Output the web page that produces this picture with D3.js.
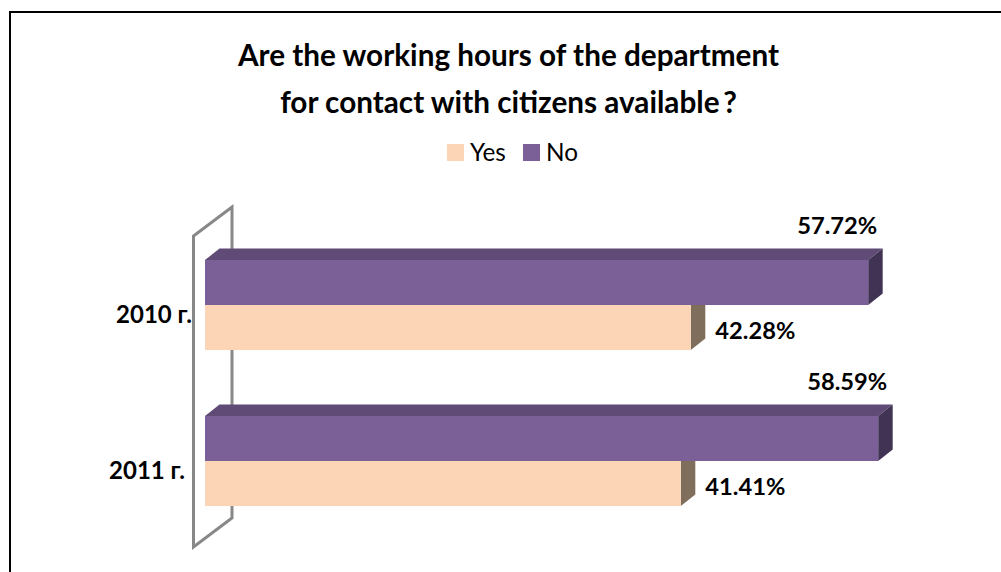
<!DOCTYPE html>
<html>
<head>
<meta charset="utf-8">
<script src="https://cdn.jsdelivr.net/npm/d3@7"></script>
<style>
  html, body { margin: 0; padding: 0; background: #fff; overflow: hidden; }
  text { font-family: Lato, "Open Sans", sans-serif; fill: #000; }
</style>
</head>
<body>
<div id="chart"></div>
<script>
const years = ['2010 г.', '2011 г.'];
const seriesNames = ['Yes', 'No'];
const yesValues = [42.28, 41.41];
const noValues = [57.72, 58.59];
const titleLines = ['Are the working hours of the department', 'for contact with citizens available\u2009?'];

const w = 1001, h = 572;
const depth = { x: 14.5, y: 11.5 };
const barH = 45;
const colors = {
    Yes: { front: '#fbd5b5', side: '#7f6e5b' },
    No: { front: '#7b6098', side: '#413353', top: '#5f4b75' }
};

const svg = d3.select('#chart').append('svg').attr('width', w).attr('height', h).style('display', 'block');

// frame: only top and left show, the rest is cut off
svg.append('path').attr('d', d3.line()([[10, h], [10, 12], [w, 12]]))
    .attr('fill', 'none').attr('stroke', '#000').attr('stroke-width', 2);

svg.selectAll('text.title').data(titleLines).enter().append('text')
    .attr('class', 'title')
    .attr('x', 508.5).attr('y', (d, i) => 66 + i * 47)
    .attr('text-anchor', 'middle')
    .style('font-size', '29.7px').style('font-weight', 700)
    .text(d => d);

// 60 on this axis sits at the right end of the plot
const x = d3.scaleLinear().domain([0, 60]).range([205, 894.4]);
const y = d3.scaleBand().domain(years).range([227, 539]);

// the slanted wall behind the bars
const [y0, y1] = y.range();
const wall = [[193.5, y0 + 9], [232, y0 - 20], [232, y1 - 21], [193.5, y1 + 8]];
svg.append('path').attr('d', d3.line()(wall) + 'Z')
    .attr('fill', 'none').attr('stroke', '#888').attr('stroke-width', 3);

function drawBar(g, name, value, top) {
    const c = colors[name];
    const x0 = x(0), x1 = x(value);
    const yt = top, yb = top + barH;
    if (c.top) {
        g.append('path')
            .attr('d', d3.line()([[x0, yt], [x0 + depth.x, yt - depth.y], [x1 + depth.x, yt - depth.y], [x1, yt]]) + 'Z')
            .attr('fill', c.top);
    }
    g.append('path')
        .attr('d', d3.line()([[x1, yt], [x1 + depth.x, yt - depth.y], [x1 + depth.x, yb - depth.y], [x1, yb]]) + 'Z')
        .attr('fill', c.side);
    g.append('rect').attr('x', x0).attr('y', yt).attr('width', x1 - x0).attr('height', barH).attr('fill', c.front);
}

// Yes goes first so the No bar hides the top of its side face
const bars = svg.append('g');
years.forEach((year, i) => {
    const mid = y(year) + y.bandwidth() / 2;
    drawBar(bars, 'Yes', yesValues[i], mid);
    drawBar(bars, 'No', noValues[i], mid - barH);
});

// value labels
const labels = svg.append('g').style('font-size', '23.7px').style('font-weight', 700);
years.forEach((year, i) => {
    const mid = y(year) + y.bandwidth() / 2;
    labels.append('text').attr('x', x(noValues[i]) + 9).attr('y', mid - 71)
        .attr('text-anchor', 'end').text(noValues[i].toFixed(2) + '%');
    labels.append('text').attr('x', x(yesValues[i]) + 24.5).attr('y', mid + 34)
        .text(yesValues[i].toFixed(2) + '%');
});

// category labels
const labelEnd = [192, 185];
svg.append('g').selectAll('text').data(years).enter().append('text')
    .attr('x', (d, i) => labelEnd[i])
    .attr('y', d => y(d) + y.bandwidth() / 2 + 18)
    .attr('text-anchor', 'end')
    .style('font-size', '24px').style('font-weight', 700)
    .text(d => d);

// legend
const legendX = [447, 523];
const legend = svg.append('g').selectAll('g').data(seriesNames).enter().append('g')
    .attr('transform', (d, i) => `translate(${legendX[i]}, 144)`);
legend.append('rect').attr('width', 17).attr('height', 17).attr('fill', d => colors[d].front);
legend.append('text').attr('x', 23).attr('y', 17).style('font-size', '24.3px').text(d => d);
</script>
</body>
</html>
